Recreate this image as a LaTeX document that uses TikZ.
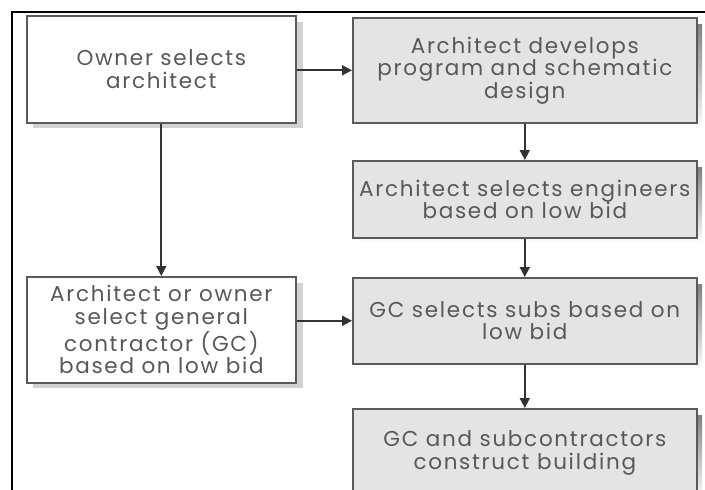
\documentclass[tikz,border=0pt]{standalone}
\usepackage{fontspec}
\setmainfont{Poppins}[LetterSpace=8]
\usetikzlibrary{arrows.meta}
\definecolor{boxline}{HTML}{5A5A5A}
\definecolor{boxfill}{HTML}{E4E4E4}
\definecolor{txt}{HTML}{585858}
\definecolor{shade}{HTML}{A8A8A8}
\definecolor{lightshade}{HTML}{D2D2D2}
\begin{document}
\begin{tikzpicture}[x=1pt,y=-1pt,
  stage/.style={draw=boxline, line width=1.6pt, anchor=north west,
    text=txt, font=\fontsize{21.5}{22.5}\selectfont, align=center,
    inner sep=0pt},
  shaded/.style={stage, fill=boxfill},
  plain/.style={stage, fill=white},
  flow/.style={draw=black!80, line width=1.8pt,
    -{Triangle[length=10pt,width=10pt]}}]
\useasboundingbox (0,0) rectangle (705,490);
\clip (0,0) rectangle (705,490);
\fill[white] (0,0) rectangle (705,490);
% outer frame (top and left rules)
\draw[black, line width=2pt] (12,490) -- (12,12) -- (705,12);

% drop shadows
\fill[lightshade] (33,22) rectangle (303,128);
\fill[lightshade] (33,283) rectangle (303,388);
\fill[shade] (359,24) rectangle (702,128);
\fill[shade] (359,167) rectangle (702,243);
\fill[shade] (359,284) rectangle (702,369);
\fill[shade] (359,415) rectangle (702,500);

% process steps
\node[plain, minimum width=269pt, minimum height=107pt] (owner) at (26,15)
  {Owner selects\\architect};
\node[shaded, minimum width=344pt, minimum height=105pt] (schematic) at (352,17)
  {Architect develops\\program and schematic\\design};
\node[shaded, minimum width=344pt, minimum height=77pt] (engineers) at (352,160)
  {Architect selects engineers\\based on low bid};
\node[plain, minimum width=269pt, minimum height=106pt] (gc) at (26,276)
  {Architect or owner\\select general\\contractor (GC)\\based on low bid};
\node[shaded, minimum width=344pt, minimum height=86pt] (subs) at (352,277)
  {GC selects subs based on\\low bid};
\node[shaded, minimum width=344pt, minimum height=88pt] (build) at (352,408)
  {GC and subcontractors\\construct building};

% connectors
\draw[flow] (owner.east |- schematic.west) -- (schematic.west);
\draw[flow] (owner.south) -- (gc.north);
\draw[flow] (schematic.south) -- (engineers.north);
\draw[flow] (engineers.south) -- (subs.north);
\draw[flow] (gc.east |- subs.west) -- (subs.west);
\draw[flow] (subs.south) -- (build.north);
\end{tikzpicture}
\end{document}
